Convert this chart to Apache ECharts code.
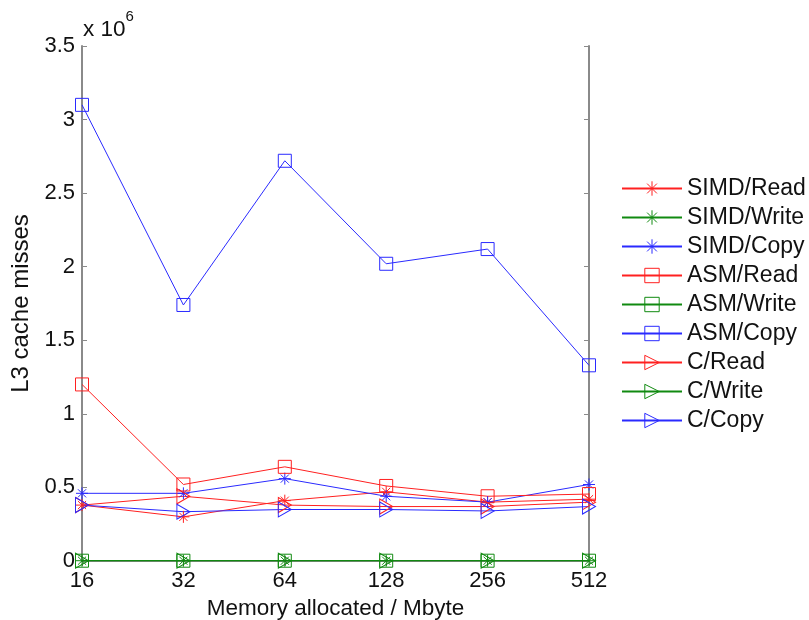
<!DOCTYPE html>
<html><head><meta charset="utf-8">
<script src="https://cdn.jsdelivr.net/npm/echarts@6/dist/echarts.min.js"></script>
<style>html,body{margin:0;padding:0;background:#fff}#c{width:809px;height:620px}</style>
</head><body><div id="c"></div>
<script>
const categories = ['16','32','64','128','256','512'];
const seriesNames = ['SIMD/Read','SIMD/Write','SIMD/Copy','ASM/Read','ASM/Write','ASM/Copy','C/Read','C/Write','C/Copy'];
const simdRead  = [380000, 300000, 410000, 470000, 400000, 420000];
const simdWrite = [2000, 2000, 2000, 2000, 2000, 2000];
const simdCopy  = [460000, 460000, 560000, 440000, 400000, 520000];
const asmRead   = [1200000, 520000, 640000, 510000, 440000, 455000];
const asmWrite  = [2000, 2000, 2000, 2000, 2000, 2000];
const asmCopy   = [3100000, 1740000, 2720000, 2020000, 2120000, 1330000];
const cRead     = [380000, 440000, 380000, 370000, 370000, 400000];
const cWrite    = [2000, 2000, 2000, 2000, 2000, 2000];
const cCopy     = [380000, 335000, 350000, 350000, 340000, 370000];

const RED='#ff2020', GREEN='#108a10', BLUE='#2a2aff';
const STAR='path://M5,0L5,10M0,5L10,5M1.6,1.6L8.4,8.4M8.4,1.6L1.6,8.4';
const SQUARE='path://M0,0L10,0L10,10L0,10Z';
const TRI='path://M0,0L10,5L0,10Z';
const FONT='Liberation Sans, Arial, sans-serif';

function mk(name, data, color, sym, size){
  return {name, type:'line', data, symbol:sym, symbolSize:size,
    lineStyle:{color, width:1}, itemStyle:{color:'rgba(0,0,0,0)', borderColor:color, borderWidth:1},
    emphasis:{disabled:true}, animation:false};
}
const series=[
  mk(seriesNames[0], simdRead, RED, STAR, 12),
  mk(seriesNames[1], simdWrite, GREEN, STAR, 12),
  mk(seriesNames[2], simdCopy, BLUE, STAR, 12),
  mk(seriesNames[3], asmRead, RED, SQUARE, 13),
  mk(seriesNames[4], asmWrite, GREEN, SQUARE, 13),
  mk(seriesNames[5], asmCopy, BLUE, SQUARE, 13),
  mk(seriesNames[6], cRead, RED, TRI, [13,15]),
  mk(seriesNames[7], cWrite, GREEN, TRI, [13,15]),
  mk(seriesNames[8], cCopy, BLUE, TRI, [13,15])
];
const axisCol='#8a8a8a';
const chart=echarts.init(document.getElementById('c'));
chart.setOption({
  animation:false,
  grid:{left:82,right:220,top:46,bottom:59,containLabel:false,outerBoundsMode:'none'},
  xAxis:[
    {type:'category',data:categories,boundaryGap:false,position:'bottom',
     axisLine:{lineStyle:{color:axisCol,width:2}},
     axisTick:{inside:true,length:5,alignWithLabel:true,lineStyle:{color:axisCol}},
     axisLabel:{color:'#111',fontSize:22,fontFamily:FONT,margin:9},
     name:'Memory allocated / Mbyte',nameLocation:'middle',nameGap:35,
     nameTextStyle:{color:'#111',fontSize:22.5,fontFamily:FONT}},
    {type:'category',data:categories,boundaryGap:false,position:'top',
     axisLine:{lineStyle:{color:axisCol,width:2}},
     axisTick:{inside:true,length:5,lineStyle:{color:axisCol}},
     axisLabel:{show:false}}
  ],
  yAxis:[
    {type:'value',min:0,max:3500000,interval:500000,position:'left',
     axisLine:{show:true,lineStyle:{color:axisCol,width:2}},
     axisTick:{show:true,inside:true,length:5,lineStyle:{color:axisCol}},
     splitLine:{show:false},
     axisLabel:{color:'#111',fontSize:22,fontFamily:FONT,margin:7,formatter:v=>String(+(v/1e6).toFixed(1))},
     name:'L3 cache misses',nameLocation:'middle',nameGap:48,nameRotate:90,
     nameTextStyle:{color:'#111',fontSize:24,fontFamily:FONT}},
    {type:'value',min:0,max:3500000,interval:500000,position:'right',
     axisLine:{show:true,lineStyle:{color:axisCol,width:2}},
     axisTick:{show:true,inside:true,length:5,lineStyle:{color:axisCol}},
     splitLine:{show:false},axisLabel:{show:false}}
  ],
  legend:{orient:'vertical',left:621,top:174,padding:0,itemWidth:60,itemHeight:18,itemGap:0,
    data:seriesNames,selectedMode:false,
    itemStyle:{color:'rgba(0,0,0,0)',borderWidth:1},
    textStyle:{color:'#111',fontSize:23,fontFamily:FONT,lineHeight:29}},
  graphic:[{type:'text',left:83,top:9,style:{text:'{a|x 10}{b|6}',rich:{
    a:{fontSize:22.5,fontFamily:FONT,fill:'#111',padding:[9,0,0,0]},
    b:{fontSize:15,fontFamily:FONT,fill:'#111',verticalAlign:'top'}}}}],
  series:series
});
</script></body></html>
